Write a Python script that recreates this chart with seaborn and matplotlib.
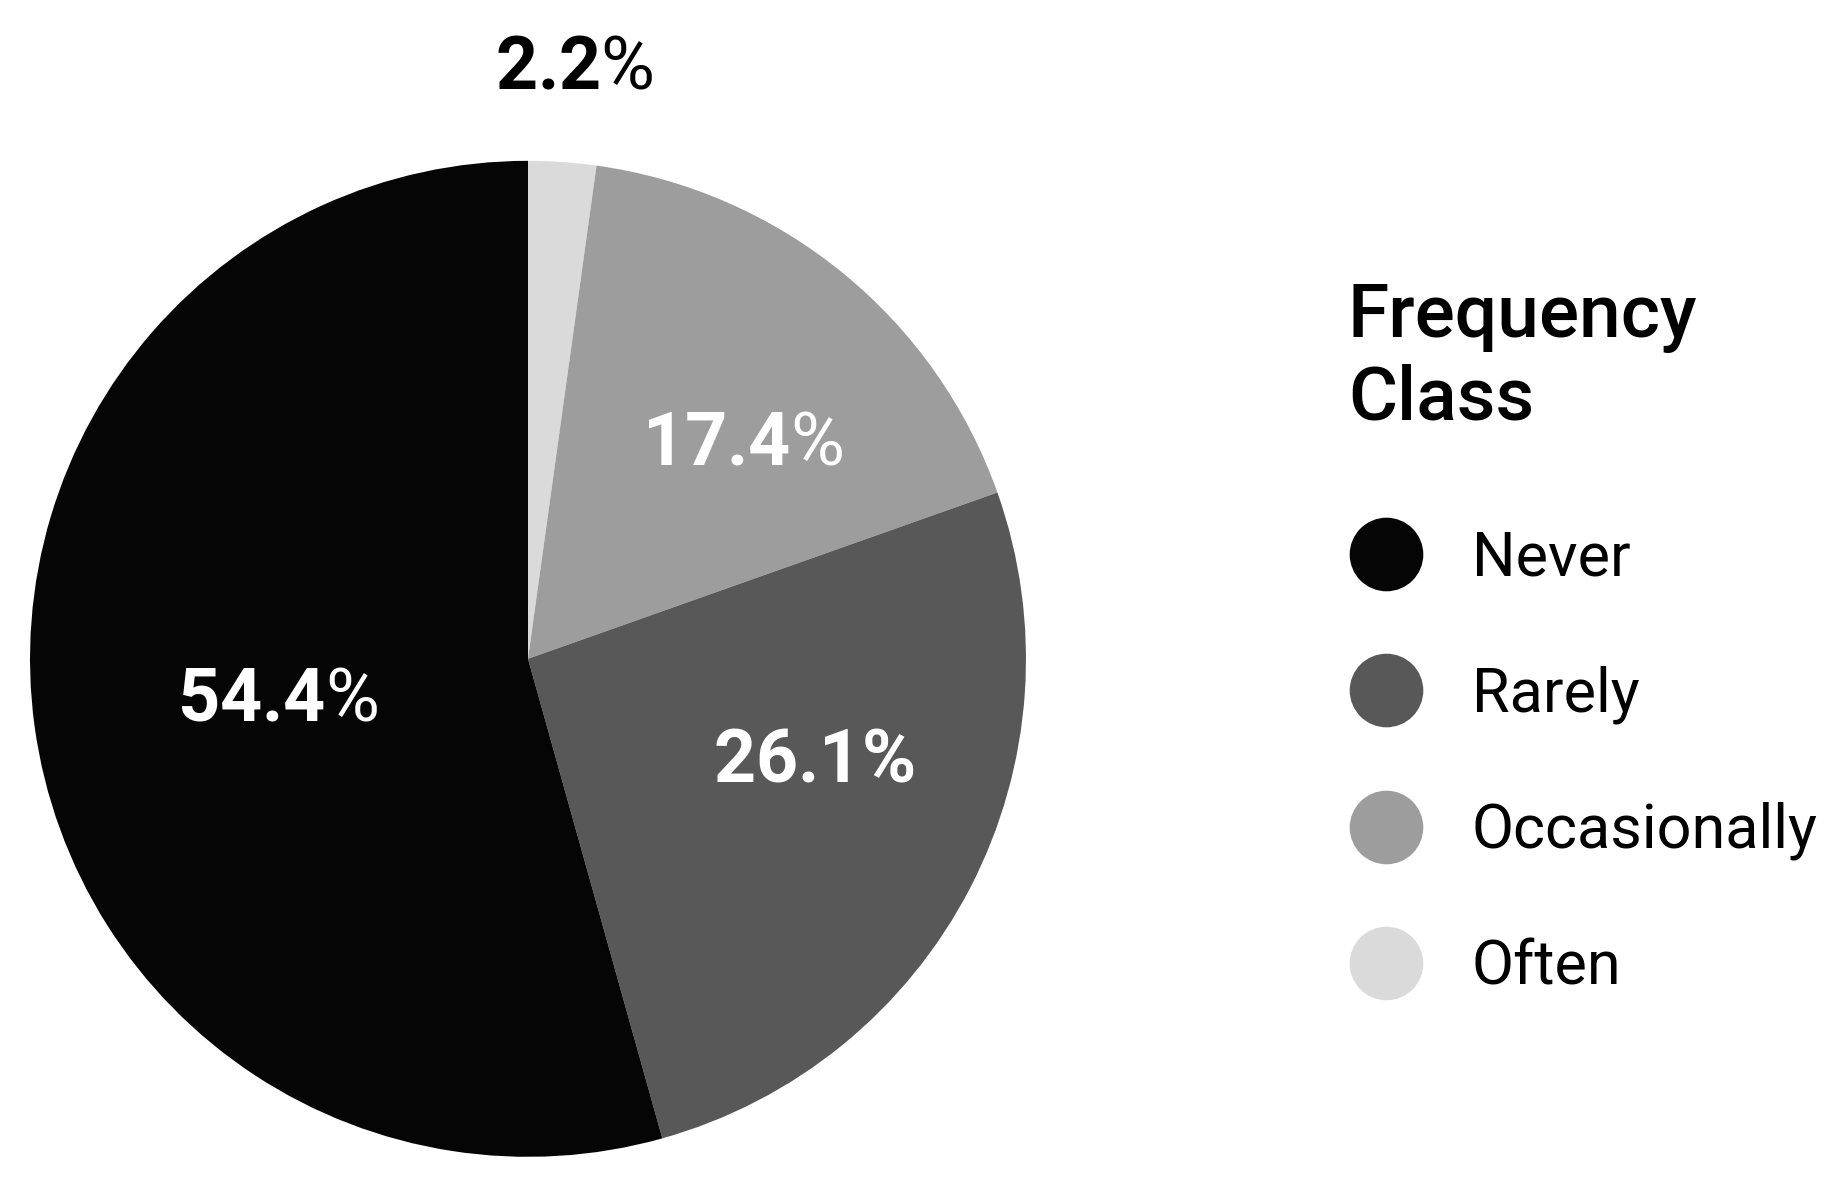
import matplotlib
matplotlib.use("Agg")
import numpy as np
import matplotlib.pyplot as plt
from matplotlib.lines import Line2D
import seaborn as sns

# --- data ---
classes = ["Often", "Occasionally", "Rarely", "Never"]      # clockwise from 12 o'clock
shares = [2.2, 17.4, 26.1, 54.4]
legend_order = ["Never", "Rarely", "Occasionally", "Often"]
legend_title = "Frequency\nClass"
class_colors = {"Never": "#050505", "Rarely": "#585858",
                "Occasionally": "#9d9d9d", "Often": "#dadada"}

sns.set_theme(style="white")
plt.rcParams["font.family"] = ["Roboto", "DejaVu Sans"]
plt.rcParams["mathtext.fontset"] = "custom"
plt.rcParams["mathtext.rm"] = "Roboto"
plt.rcParams["mathtext.bf"] = "Roboto:bold"

palette = sns.color_palette([class_colors[c] for c in classes])

fig = plt.figure(figsize=(18.41, 11.79), dpi=100)
ax = fig.add_axes([0.0163, 0.0187, 0.541, 0.845])

wedges, _ = ax.pie(shares, colors=palette, startangle=90, counterclock=False,
                   radius=1, wedgeprops=dict(linewidth=0))
ax.set_xlim(-1, 1)
ax.set_ylim(-1, 1)
ax.set_aspect("equal")
ax.axis("off")

# --- percentage labels: bold number, regular percent sign ---
label_dist = [1.19, 0.61, 0.61, 0.51]
label_shift = [-0.5, -5.8, 7.7, 1.4]     # degrees, nudges off the wedge midline
label_color = ["black", "white", "white", "white"]
bold_pct = [False, False, True, False]
for w, val, d, sh, col, bp in zip(wedges, shares, label_dist, label_shift,
                                  label_color, bold_pct):
    mid = np.deg2rad((w.theta1 + w.theta2) / 2 + sh)
    txt = rf"$\mathbf{{{val:.1f}\%}}$" if bp else rf"$\mathbf{{{val:.1f}}}$%"
    ax.text(d * np.cos(mid), d * np.sin(mid), txt, ha="center", va="center",
            fontsize=53, color=col, clip_on=False)

# --- legend (title drawn separately for spacing control) ---
fig.text(0.7322, 0.6446, legend_title, ha="left", va="baseline",
         fontsize=54, fontweight="medium", color="black", linespacing=1.18)

handles = [Line2D([0], [0], marker="o", linestyle="", markersize=53,
                  markerfacecolor=class_colors[c], markeredgewidth=0)
           for c in legend_order]
leg = fig.legend(handles, legend_order, loc="upper left",
                 bbox_to_anchor=(0.733, 0.5513),
                 frameon=False, fontsize=44, labelcolor="black",
                 labelspacing=1.28, handletextpad=0.8,
                 borderaxespad=0, borderpad=0, handlelength=1.2)

fig.savefig("out.png", dpi=100)
